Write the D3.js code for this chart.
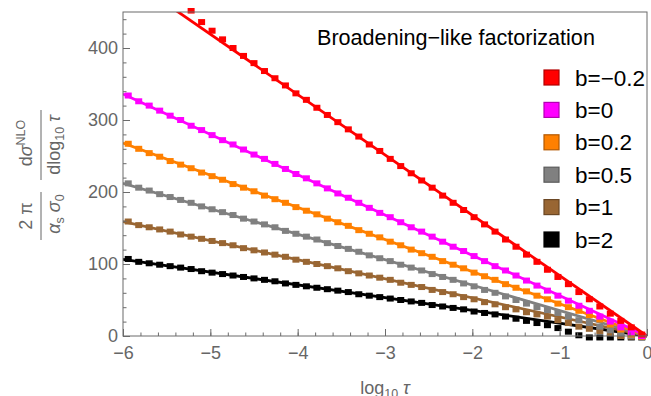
<!DOCTYPE html>
<html>
<head>
<meta charset="utf-8">
<script src="https://cdn.jsdelivr.net/npm/d3@7/dist/d3.min.js"></script>
<style>
    body { margin: 0; background: #fff; }
    #chart { width: 651px; height: 396px; }
    text { font-family: "Liberation Sans", Arial, sans-serif; }
</style>
</head>
<body>
<div id="chart"></div>
<script>
// bin centres in log10(tau)
const logTau = [-5.94, -5.82, -5.70, -5.58, -5.46, -5.34, -5.22, -5.10, -4.98, -4.86,
    -4.74, -4.62, -4.50, -4.38, -4.26, -4.14, -4.02, -3.90, -3.78, -3.66,
    -3.54, -3.42, -3.30, -3.18, -3.06, -2.94, -2.82, -2.70, -2.58, -2.46,
    -2.34, -2.22, -2.10, -1.98, -1.86, -1.74, -1.62, -1.50, -1.38, -1.26,
    -1.14, -1.02, -0.90, -0.78, -0.66, -0.54, -0.42, -0.30, -0.18, -0.06];

// histogram points, one array per b value
const pointsBm02 = [540, 525, 510, 495, 480, 466, 452, 436, 424, 412,
    400, 389, 379, 368, 358, 348, 337, 328, 317, 307,
    297, 287, 277, 266, 257, 246, 236, 226, 216, 206,
    195, 185, 175, 165, 155, 145, 134, 124, 113, 103,
    92, 82, 72, 61, 51, 41, 31, 21, 12, 2];
const pointsB0 = [334, 326, 320, 313, 306, 300, 292, 286, 279, 272,
    266, 259, 252, 246, 239, 232, 225, 219, 212, 205,
    198, 192, 185, 178, 171, 165, 158, 151, 145, 138,
    131, 124, 118, 111, 104, 97, 91, 84, 77, 70,
    63, 56, 49, 42, 35, 27, 20, 12, 5, 0];
const pointsB02 = [267, 260, 254, 249, 243, 238, 233, 227, 222, 217,
    211, 206, 201, 195, 190, 185, 179, 174, 169, 163,
    158, 153, 147, 142, 137, 131, 126, 120, 115, 110,
    104, 99, 94, 88, 83, 78, 72, 67, 62, 56,
    51, 45, 40, 35, 29, 23, 16, 9, 2, -1];
const pointsB05 = [212, 206, 202, 197, 193, 189, 185, 180, 176, 172,
    168, 163, 159, 155, 151, 146, 142, 138, 134, 129,
    125, 121, 117, 112, 108, 104, 99, 95, 91, 86,
    82, 78, 73, 69, 64, 60, 55, 50, 45, 40,
    36, 32, 27, 22, 18, 13, 8, 4, 0, -1];
const pointsB1 = [159, 154, 151, 148, 145, 141, 138, 135, 132, 129,
    126, 122, 119, 116, 113, 110, 106, 103, 100, 97,
    94, 90, 87, 84, 81, 78, 74, 71, 68, 64,
    61, 58, 54, 51, 47, 44, 40, 37, 33, 30,
    27, 22, 18, 13, 10, 7, 4, 0, -1, -1];
const pointsB2 = [107, 103, 101, 99, 97, 95, 93, 90, 88, 86,
    84, 82, 80, 78, 76, 73, 71, 69, 67, 65,
    63, 61, 58, 56, 54, 52, 50, 48, 46, 43,
    41, 39, 37, 34, 32, 30, 27, 24, 21, 18,
    15, 11, 6, 1, -2, -2, -2, -2, -2, -2];

// straight reference lines: value at log10 tau = -6 and at 0
const lineX = [-6, 0];
const lineStart = [503, 336, 268, 212, 159, 106.5];
const lineEnd = [0, 0, 0, 0, 0, 0];

const seriesLabels = ["b=\u22120.2", "b=0", "b=0.2", "b=0.5", "b=1", "b=2"];
const seriesColors = ["#ff0000", "#ff00ff", "#ff8000", "#808080", "#996633", "#000000"];
const edgeColors = ["#b30000", "#b300b3", "#b35900", "#5a5a5a", "#6b4724", "#000000"];

const xTicks = [-6, -5, -4, -3, -2, -1, 0];
const yTicks = [0, 100, 200, 300, 400];
const titleText = "Broadening\u2212like factorization";

document.addEventListener("DOMContentLoaded", () => {
    const allPoints = [pointsBm02, pointsB0, pointsB02, pointsB05, pointsB1, pointsB2];

    const W = 651, H = 396;
    const left = 123, right = 647, top = 12, bottom = 336;
    const axisColor = "#6b6b6b";

    const x = d3.scaleLinear().domain([-6, 0]).range([left, right]);
    const y = d3.scaleLinear().domain([0, 450]).range([bottom, top]);

    const svg = d3.select("#chart").append("svg")
        .attr("width", W).attr("height", H)
        .attr("viewBox", [0, 0, W, H]);

    const defs = svg.append("defs");
    defs.append("clipPath").attr("id", "lineClip")
        .append("rect").attr("x", left).attr("y", top).attr("width", right - left + 4).attr("height", bottom - top + 2);
    defs.append("clipPath").attr("id", "pointClip")
        .append("rect").attr("x", left).attr("y", top - 4).attr("width", W - left).attr("height", bottom - top + 12);

    // reference lines
    const lineLayer = svg.append("g").attr("clip-path", "url(#lineClip)");
    const line = d3.line().x(d => x(d[0])).y(d => y(d[1]));
    for (let s = allPoints.length - 1; s >= 0; s--) {
        lineLayer.append("path")
            .datum([[lineX[0], lineStart[s]], [lineX[1], lineEnd[s]]])
            .attr("d", line)
            .attr("fill", "none")
            .attr("stroke", seriesColors[s])
            .attr("stroke-width", 2.8);
    }

    // points (squares), b=2 first so red ends on top
    const pointLayer = svg.append("g").attr("clip-path", "url(#pointClip)");
    for (let s = allPoints.length - 1; s >= 0; s--) {
        pointLayer.append("g")
            .selectAll("rect")
            .data(allPoints[s].map((v, i) => [logTau[i], v]))
            .enter()
            .append("rect")
            .attr("x", d => x(d[0]) - 3.5)
            .attr("y", d => y(d[1]) - 3)
            .attr("width", 7)
            .attr("height", 6)
            .attr("fill", seriesColors[s]);
    }

    // axes: ticks pointing inwards
    const xAxis = svg.append("g").attr("transform", `translate(0,${bottom})`)
        .call(d3.axisBottom(x).tickValues(d3.range(-6, 0.001, 0.2)).tickSize(-3.5).tickFormat(""));
    const xMajor = svg.append("g").attr("transform", `translate(0,${bottom})`)
        .call(d3.axisBottom(x).tickValues(xTicks).tickSize(-7).tickPadding(10).tickFormat(d3.format("d")));
    const yAxis = svg.append("g").attr("transform", `translate(${left},0)`)
        .call(d3.axisLeft(y).tickValues(d3.range(0, 441, 20)).tickSize(-3.5).tickFormat(""));
    const yMajor = svg.append("g").attr("transform", `translate(${left},0)`)
        .call(d3.axisLeft(y).tickValues(yTicks).tickSize(-7).tickPadding(5).tickFormat(d3.format("d")));

    [xAxis, xMajor, yAxis, yMajor].forEach(g => {
        g.select(".domain").remove();
        g.selectAll("line").attr("stroke", axisColor);
        g.selectAll("text").attr("fill", "#666").attr("font-size", 18)
            .attr("font-family", "'Liberation Sans', Arial, sans-serif");
    });

    // frame
    svg.append("rect")
        .attr("x", left).attr("y", top)
        .attr("width", right - left).attr("height", bottom - top)
        .attr("fill", "none").attr("stroke", axisColor).attr("stroke-width", 1);

    // x label
    const xl = svg.append("text")
        .attr("x", (left + right) / 2).attr("y", 394)
        .attr("text-anchor", "middle").attr("fill", "#666").attr("font-size", 18);
    xl.append("tspan").text("log");
    xl.append("tspan").attr("dy", 4).attr("font-size", 12.5).text("10");
    xl.append("tspan").attr("dy", -4).text(" ");
    xl.append("tspan").attr("font-style", "italic").text("\u03c4");

    // y label: two stacked fractions, rotated
    const yl = svg.append("g").attr("transform", "translate(41,175) rotate(-90)")
        .attr("fill", "#666").attr("font-size", 18);
    // first fraction  2 pi / (alpha_s sigma_0)
    yl.append("line").attr("x1", -65).attr("x2", -17).attr("y1", 0).attr("y2", 0)
        .attr("stroke", "#666").attr("stroke-width", 1);
    yl.append("text").attr("x", -41).attr("y", -9).attr("text-anchor", "middle").text("2 \u03c0");
    const den1 = yl.append("text").attr("x", -39).attr("y", 19).attr("text-anchor", "middle");
    den1.append("tspan").attr("font-style", "italic").text("\u03b1");
    den1.append("tspan").attr("dy", 4).attr("font-size", 12.5).text("s");
    den1.append("tspan").attr("dy", -4).text(" ");
    den1.append("tspan").attr("font-style", "italic").text("\u03c3");
    den1.append("tspan").attr("dy", 4).attr("font-size", 12.5).text("0");
    // second fraction  d sigma^NLO / d log10 tau
    yl.append("line").attr("x1", -5).attr("x2", 65).attr("y1", 0).attr("y2", 0)
        .attr("stroke", "#666").attr("stroke-width", 1);
    const num2 = yl.append("text").attr("x", 32).attr("y", -9).attr("text-anchor", "middle");
    num2.append("tspan").text("d");
    num2.append("tspan").attr("font-style", "italic").text("\u03c3");
    num2.append("tspan").attr("dy", -7).attr("font-size", 12.5).text("NLO");
    const den2 = yl.append("text").attr("x", 30).attr("y", 19).attr("text-anchor", "middle");
    den2.append("tspan").text("dlog");
    den2.append("tspan").attr("dy", 4).attr("font-size", 12.5).text("10");
    den2.append("tspan").attr("dy", -4).text(" ");
    den2.append("tspan").attr("font-style", "italic").text("\u03c4");

    // title
    svg.append("text")
        .attr("x", 317).attr("y", 45)
        .attr("font-size", 21.6).attr("fill", "#000")
        .text(titleText);

    // legend
    const legend = svg.append("g");
    seriesLabels.forEach((lab, i) => {
        const cy = 77.5 + i * 32.4;
        legend.append("rect")
            .attr("x", 544).attr("y", cy - 7.5)
            .attr("width", 15).attr("height", 15)
            .attr("fill", seriesColors[i])
            .attr("stroke", edgeColors[i]).attr("stroke-width", 1.2);
        legend.append("text")
            .attr("x", 575).attr("y", cy).attr("dy", "0.36em")
            .attr("font-size", 22.5).attr("fill", "#000")
            .text(lab);
    });
});
</script>
</body>
</html>
